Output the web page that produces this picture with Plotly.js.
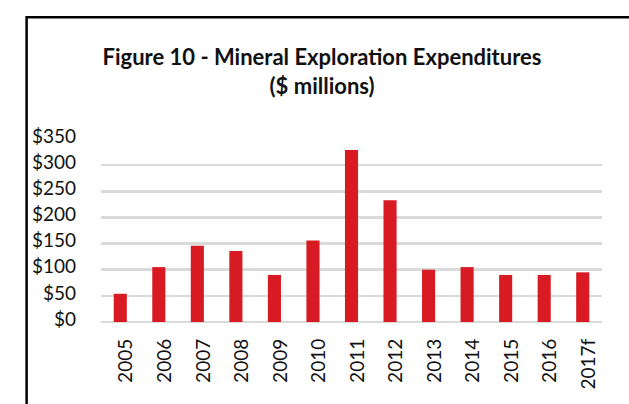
<!DOCTYPE html>
<html>
<head>
<meta charset="utf-8">
<script src="https://cdn.plot.ly/plotly-3.0.1.min.js"></script>
<style>
html,body{margin:0;padding:0;background:#fff;}
#chart{width:629px;height:404px;}
</style>
</head>
<body>
<div id="chart"></div>
<script>
var years = ["2005","2006","2007","2008","2009","2010","2011","2012","2013","2014","2015","2016","2017f"];
var expenditures = [54, 105, 146, 136, 90, 156, 329, 233, 100, 105, 90, 90, 95];
var yTickValues = [0, 50, 100, 150, 200, 250, 300, 350];
var yTickLabels = ["$0","$50","$100","$150","$200","$250","$300","$350"];

var trace = {
  type: "bar",
  x: years,
  y: expenditures,
  marker: {color: "#D81B22", line: {width: 0}},
  hoverinfo: "x+y"
};

var layout = {
  width: 629,
  height: 404,
  margin: {l: 101, r: 27, t: 139, b: 82},
  paper_bgcolor: "#ffffff",
  plot_bgcolor: "#ffffff",
  font: {family: "Lato, 'Open Sans', sans-serif", color: "#111111"},
  title: {
    text: "<b>Figure 10 - Mineral Exploration Expenditures</b><br><b>($ millions)</b>",
    font: {family: "Lato, sans-serif", size: 22, color: "#111111"},
    x: 0.512,
    xanchor: "center",
    y: 0.838,
    yanchor: "top"
  },
  bargap: 0.66,
  showlegend: false,
  xaxis: {
    type: "category",
    tickangle: -90,
    tickfont: {size: 19, color: "#111111"},
    ticks: "",
    ticklabelstandoff: 12,
    ticklabelshift: 6,
    showgrid: false,
    showline: false,
    zeroline: false,
    fixedrange: true
  },
  yaxis: {
    range: [0, 350],
    tickvals: yTickValues,
    ticktext: yTickLabels,
    tickfont: {size: 19, color: "#111111"},
    ticks: "",
    ticklabelstandoff: 24,
    ticklabelshift: -3,
    showgrid: true,
    gridcolor: "#DADADA",
    gridwidth: 2.5,
    zeroline: true,
    zerolinecolor: "#DADADA",
    zerolinewidth: 2.5,
    showline: false,
    fixedrange: true
  },
  shapes: [{
    type: "rect",
    xref: "paper", yref: "paper",
    x0: -0.1485, x1: 1.1,
    y0: -0.6, y1: 1.665,
    line: {color: "#000000", width: 2.5},
    fillcolor: "rgba(0,0,0,0)",
    layer: "above"
  }]
};

Plotly.newPlot("chart", [trace], layout, {displayModeBar: false, staticPlot: true});
</script>
</body>
</html>
